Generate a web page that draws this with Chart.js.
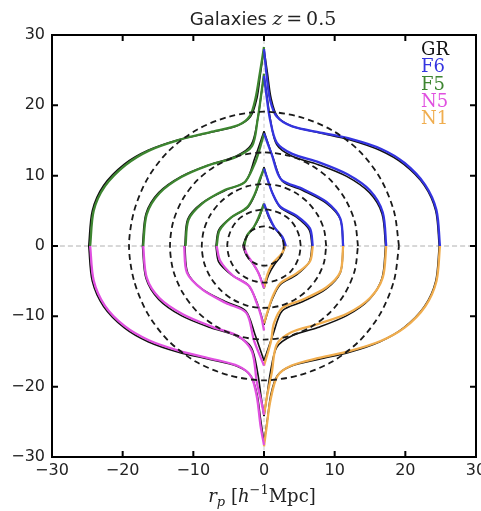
<!DOCTYPE html>
<html>
<head>
<meta charset="utf-8">
<script src="https://cdn.jsdelivr.net/npm/chart.js@4.4.0/dist/chart.umd.min.js"></script>
<style>
html, body { margin: 0; padding: 0; background: #fff; }
canvas { display: block; }
</style>
</head>
<body>
<canvas id="xiChart" width="481" height="511"></canvas>
<script>
// contour lines of xi(r_p, pi)
// every contour is one quadrant, given as [|r_p|, |pi|] from the r_p axis to the pi axis
const models = ['GR', 'F6', 'F5', 'N5', 'N1'];
const modelColors = ['#111111', '#3434e0', '#3d8530', '#e050e0', '#f0ad4e'];
const tickValues = [-30, -20, -10, 0, 10, 20, 30];

// GR is drawn in all four quadrants
const grContours = [
    [[24.8, 0], [24.3, 5], [22.7, 8.6], [19.8, 11.6], [16.4, 13.6], [12.1, 15.1], [7.8, 16.1], [3.8, 17.1], [1.9, 18.4], [1, 21], [0.5, 24.5], [0, 28]],
    [[17.2, 0], [16.7, 4.6], [14.9, 7.6], [11.7, 9.9], [7.6, 11.6], [3.9, 12.8], [1.8, 14.4], [0.9, 18], [0.4, 21.5], [0, 24.2]],
    [[11.2, 0], [10.8, 3.8], [8.8, 6.1], [5.5, 7.9], [2.6, 9.2], [1.3, 12.5], [0, 16.3]],
    [[6.8, 0], [6.4, 2.3], [4.6, 4.1], [2.3, 5.5], [1.2, 7.5], [0.5, 9.5], [0, 11.2]],
    [[3, 0], [2.5, 1.3], [1.5, 2.6], [0.7, 4], [0, 6]]
];
// F6: upper right
const f6Contours = [
    [[24.9, 0], [24.4, 5.1], [22.8, 8.7], [19.9, 11.8], [16.6, 13.8], [12.4, 15.2], [8.2, 16.1], [4, 17], [1.8, 18.4], [0.85, 20.8], [0.4, 24], [0, 28]],
    [[17.3, 0], [16.8, 4.8], [15, 7.9], [11.8, 10.2], [7.8, 11.9], [4, 13.1], [1.8, 14.7], [0.85, 18], [0.4, 21], [0, 24.2]],
    [[11.2, 0], [10.8, 3.9], [8.8, 6.3], [5.5, 8.1], [2.4, 9.5], [1.1, 13], [0, 16]],
    [[6.9, 0], [6.5, 2.5], [4.6, 4.3], [2.3, 5.6], [1.2, 7.5], [0.5, 9.5], [0, 11]],
    [[3.1, 0], [2.6, 1.3], [1.5, 2.6], [0.8, 4], [0, 6]]
];
// F5: upper left
const f5Contours = [
    [[24.6, 0], [24.1, 5], [22.5, 8.5], [19.6, 11.5], [16.2, 13.6], [12, 15.1], [7.6, 16.2], [3.6, 17.2], [2, 18.5], [1.2, 21], [0.6, 24.5], [0, 28.3]],
    [[17.1, 0], [16.6, 4.5], [14.8, 7.5], [11.7, 9.8], [7.8, 11.5], [4.1, 12.6], [1.7, 14.2], [0.9, 18], [0.4, 21.5], [0, 24.5]],
    [[11.1, 0], [10.7, 3.7], [8.8, 6], [5.7, 7.9], [2.8, 9], [1.4, 11.5], [0.7, 13.5], [0, 16]],
    [[6.7, 0], [6.3, 2.2], [4.7, 4], [2.4, 5.5], [1.3, 7.4], [0.6, 9.5], [0, 11]],
    [[2.8, 0], [2.4, 1.5], [1.5, 2.6], [0.8, 4], [0, 6]]
];
// N5: lower left
const n5Contours = [
    [[24.6, 0], [24.1, 4.9], [22.5, 8.5], [19.7, 11.4], [16.3, 13.4], [12, 14.9], [7.6, 16], [3.6, 17.1], [1.8, 18.6], [1, 21.5], [0.5, 25.5], [0, 28.3]],
    [[17.1, 0], [16.6, 4.5], [14.8, 7.4], [11.5, 9.7], [7.3, 11.5], [3.5, 12.9], [1.7, 15], [1, 19.5], [0.4, 22], [0, 24]],
    [[11.3, 0], [10.9, 3.8], [8.7, 6.2], [5.4, 8.1], [2.5, 9.5], [1.4, 13.5], [0, 17]],
    [[6.7, 0], [6.2, 2.1], [4.4, 4.2], [2.1, 5.7], [1, 8.2], [0.4, 10], [0, 12]],
    [[2.9, 0], [2.4, 1.2], [1.6, 2.4], [0.8, 3.8], [0, 6]]
];
// N1: lower right
const n1Contours = [
    [[24.9, 0], [24.4, 5], [22.8, 8.6], [19.9, 11.6], [16.5, 13.5], [12.2, 14.9], [7.8, 15.9], [3.9, 17], [1.9, 18.5], [0.9, 22], [0.4, 25.5], [0, 28.5]],
    [[17.3, 0], [16.8, 4.5], [15, 7.4], [11.8, 9.6], [7.6, 11.1], [3.8, 12.3], [1.8, 14], [1.1, 18], [0.4, 21.5], [0, 24]],
    [[11.2, 0], [10.8, 3.7], [8.8, 5.9], [5.5, 7.6], [2.6, 8.8], [1.4, 11], [1, 13.5], [0, 17]],
    [[6.9, 0], [6.5, 2.2], [4.6, 3.9], [2.3, 5.3], [1.3, 7], [0.6, 9], [0, 11]],
    [[3, 0], [2.5, 1.1], [1.2, 2.5], [0.5, 4], [0, 6]]
];
// dashed contours (same in every quadrant)
const dashedContours = [
    [[19.1, 0], [18.4, 4.9], [16.5, 9.55], [13.5, 13.5], [9.55, 16.5], [4.9, 18.4], [0, 19.1]],
    [[13.3, 0], [12.85, 3.45], [11.5, 6.65], [9.4, 9.4], [6.65, 11.5], [3.45, 12.85], [0, 13.3]],
    [[8.8, 0], [8.5, 2.3], [7.6, 4.4], [6.2, 6.2], [4.4, 7.6], [2.3, 8.5], [0, 8.8]],
    [[5.2, 0], [5, 1.35], [4.5, 2.6], [3.7, 3.7], [2.6, 4.5], [1.35, 5], [0, 5.2]],
    [[2.8, 0], [2.7, 0.7], [2.4, 1.4], [2, 2], [1.4, 2.4], [0.7, 2.7], [0, 2.8]]
];

var datasets = [];

function quadrant(contour, sx, sy) {
    return contour.map(p => ({x: sx * p[0], y: sy * p[1]}));
}

// whole closed line out of one quadrant
function fullLoop(contour) {
    const q1 = quadrant(contour, 1, 1);
    const q2 = quadrant(contour.slice().reverse(), -1, 1).slice(1);
    const q3 = quadrant(contour, -1, -1).slice(1);
    const q4 = quadrant(contour.slice().reverse(), 1, -1).slice(1);
    return q1.concat(q2, q3, q4);
}

function addLine(points, color, width, dash, order) {
    datasets.push({
        data: points,
        showLine: true,
        fill: false,
        borderColor: color,
        borderWidth: width,
        borderDash: dash,
        pointRadius: 0,
        tension: 0.3,
        order: order
    });
}

// zero lines
addLine([{x: -30, y: 0}, {x: 30, y: 0}], '#b0b0b0', 1, [5, 3], 6);
addLine([{x: 0, y: -30}, {x: 0, y: 30}], '#c8c8c8', 1, [4, 3], 6);

grContours.forEach(c => {
    addLine(quadrant(c, 1, 1), modelColors[0], 1.6, [], 5);
    addLine(quadrant(c, -1, 1), modelColors[0], 1.6, [], 5);
    addLine(quadrant(c, -1, -1), modelColors[0], 1.6, [], 5);
    addLine(quadrant(c, 1, -1), modelColors[0], 1.6, [], 5);
});
f6Contours.forEach(c => addLine(quadrant(c, 1, 1), modelColors[1], 2.3, [], 4));
f5Contours.forEach(c => addLine(quadrant(c, -1, 1), modelColors[2], 2.3, [], 4));
n5Contours.forEach(c => addLine(quadrant(c, -1, -1), modelColors[3], 2.3, [], 4));
n1Contours.forEach(c => addLine(quadrant(c, 1, -1), modelColors[4], 2.3, [], 4));
dashedContours.forEach(c => addLine(fullLoop(c), '#1a1a1a', 1.8, [6, 4], 2));

function minusLabel(value) {
    return value < 0 ? '\u2212' + Math.abs(value) : String(value);
}

// text made of pieces with their own fonts
function drawPieces(ctx, pieces, cx, baseline) {
    let total = 0;
    pieces.forEach(p => {
        ctx.font = p.font;
        p.w = ctx.measureText(p.text).width;
        total += p.w;
    });
    let x = cx - total / 2;
    ctx.textAlign = 'left';
    ctx.textBaseline = 'alphabetic';
    pieces.forEach(p => {
        ctx.font = p.font;
        ctx.fillText(p.text, x, baseline + (p.dy || 0));
        x += p.w;
    });
}

const decor = {
    id: 'decor',
    afterDatasetsDraw(chart) {
        const {ctx, chartArea: a, scales} = chart;
        ctx.save();
        ctx.strokeStyle = '#000';
        ctx.lineWidth = 2;
        ctx.strokeRect(a.left, a.top, a.right - a.left, a.bottom - a.top);
        ctx.beginPath();
        tickValues.forEach(v => {
            if (v === -30 || v === 30) return;
            const px = scales.x.getPixelForValue(v);
            const py = scales.y.getPixelForValue(v);
            ctx.moveTo(px, a.bottom); ctx.lineTo(px, a.bottom - 6);
            ctx.moveTo(px, a.top); ctx.lineTo(px, a.top + 6);
            ctx.moveTo(a.left, py); ctx.lineTo(a.left + 6, py);
            ctx.moveTo(a.right, py); ctx.lineTo(a.right - 6, py);
        });
        ctx.stroke();
        ctx.restore();
    },
    afterDraw(chart) {
        const ctx = chart.ctx;
        ctx.save();
        ctx.fillStyle = '#222';
        drawPieces(ctx, [
            {text: 'Galaxies ', font: '18px "DejaVu Sans"'},
            {text: 'z', font: 'italic 19px "DejaVu Serif"'},
            {text: '\u2009=\u2009', font: '19px "DejaVu Serif"'},
            {text: '0.5', font: '19px "DejaVu Serif"'}
        ], 263, 25);
        drawPieces(ctx, [
            {text: 'r', font: 'italic 18px "DejaVu Serif"'},
            {text: 'p', font: 'italic 13px "DejaVu Serif"', dy: 4},
            {text: ' [', font: '18px "DejaVu Serif"'},
            {text: 'h', font: 'italic 18px "DejaVu Serif"'},
            {text: '\u22121', font: '13px "DejaVu Serif"', dy: -8},
            {text: 'Mpc]', font: '18px "DejaVu Serif"'}
        ], 262, 502);
        // legend: coloured names only
        ctx.font = '18px "DejaVu Serif"';
        ctx.textAlign = 'left';
        models.forEach((m, i) => {
            ctx.fillStyle = modelColors[i];
            ctx.fillText(m, 421, 55 + i * 17.3);
        });
        ctx.restore();
    }
};

const axisFont = {family: 'DejaVu Sans', size: 16};

new Chart(document.getElementById('xiChart'), {
    type: 'scatter',
    data: {datasets: datasets},
    options: {
        responsive: false,
        animation: false,
        events: [],
        layout: {padding: {left: 0, top: 35, right: 5, bottom: 0}},
        plugins: {
            legend: {display: false},
            tooltip: {enabled: false},
            title: {display: false}
        },
        scales: {
            x: {
                type: 'linear',
                min: -30,
                max: 30,
                grid: {display: false, drawTicks: false},
                border: {display: false},
                ticks: {stepSize: 10, font: axisFont, color: '#222', padding: 4, maxRotation: 0, callback: minusLabel},
                afterFit: function (scale) {
                    scale.height = 54;
                    scale.paddingLeft = 0;
                    scale.paddingRight = 0;
                }
            },
            y: {
                type: 'linear',
                min: -30,
                max: 30,
                grid: {display: false, drawTicks: false},
                border: {display: false},
                ticks: {stepSize: 10, font: axisFont, color: '#222', padding: 7, callback: minusLabel},
                afterFit: function (scale) {
                    scale.width = 52;
                    scale.paddingTop = 0;
                    scale.paddingBottom = 0;
                }
            }
        }
    },
    plugins: [decor]
});
</script>
</body>
</html>
